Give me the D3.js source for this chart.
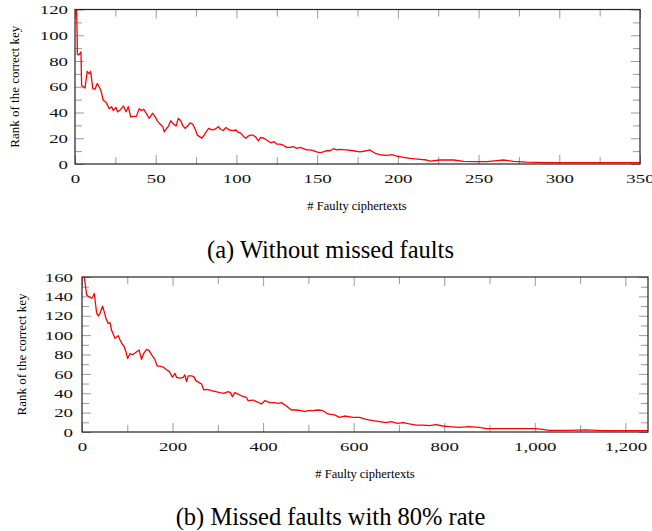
<!DOCTYPE html>
<html>
<head>
<meta charset="utf-8">
<script src="https://d3js.org/d3.v7.min.js"></script>
<style>
  body { margin: 0; background: #fff; }
</style>
</head>
<body>
<div id="chart"></div>
<script>
(function() {
  // --- data ---
  // (a) without missed faults
  const xA = [1, 1.5, 2.5, 3.7, 4.1, 6.2, 7.6, 8.9, 9.7, 11, 12.4, 13.8, 15, 16.1, 17.5, 19.2, 21.2, 22.7, 23.7,
    25.4, 26.3, 28, 30, 31.6, 33, 34.5, 36, 38, 39.8, 41.2, 42.6, 44.3, 46, 48, 49.5, 51, 52.7, 54.4, 55.3,
    56.8, 57.9, 59.3, 61, 62.6, 64, 65.5, 66.7, 68.2, 69.8, 71.2, 72.9, 74.3, 75.8, 77.4, 78.5, 80, 81.2,
    82.8, 84.7, 86.7, 88.8, 90.2, 91.9, 93.5, 95.6, 97.6, 99.7, 101.1, 102.6, 104.7, 105.9, 107.3, 108.8,
    110.4, 112.1, 113.6, 115, 117, 118.7, 121.2, 123.3, 124.9, 127, 129, 131.1, 133.2, 135.3, 137.3, 139.4,
    141.5, 143.5, 145.6, 147.6, 149.7, 151.8, 153.8, 155.9, 158, 160, 162, 164, 168, 172.4, 176.5, 180.7,
    182.7, 185.9, 189, 193.2, 196.3, 199.3, 203.4, 207.6, 213.8, 217.9, 220, 226.2, 234.5, 240.7, 249, 255,
    261.3, 265.4, 271.6, 279.8, 292.2, 300.5, 312.9, 327.3, 337.6, 350];
  const yA = [120, 85, 85, 87, 61, 59, 72, 70, 72, 58.6, 58, 62.5, 60, 56.7, 49.5, 48, 43, 44.5, 41.5,
    44, 40.5, 42, 45, 40.5, 44.5, 36.6, 37, 37, 43, 41.5, 42.5, 39, 35.4, 39.4, 37, 33.5, 31, 29, 25,
    27.6, 29.5, 33.6, 31, 29.5, 35.4, 33.6, 30, 27.6, 29.5, 32, 31, 27.6, 22.4, 21.1, 20, 22.4, 25,
    27.6, 26.5, 27, 28.9, 27, 26, 28.4, 26.4, 26, 26.4, 24.5, 24, 21, 20, 21.7, 22.4,
    22.4, 20.7, 18, 20.7, 20, 18.6, 16.5, 17.3, 15.5, 15.5, 14.7, 12.9, 12.9, 13.4, 12.1, 12.9,
    11.9, 10.9, 10.9, 10.4, 9.5, 8.8, 9.5, 10.4, 10.3, 11.9, 10.9, 11.4, 11, 10.3, 9.5, 10.3,
    10.9, 8.3, 7.2, 6.7, 7.2, 6.2, 5.2, 4.4, 3.6, 3.1, 2.3, 3.1, 3.1, 2.1, 1.8, 1.8,
    2.6, 3.1, 2.1, 1.5, 1.0, 1.0, 1, 1, 1, 1];

  // (b) missed faults with 80% rate
  const xB = [5, 10.3, 12.9, 21.3, 23.5, 27.2, 32.3, 36, 39.7, 45.5, 48.5, 52.9, 58, 61.8, 65.4, 72.8, 80.2,
    83.8, 87.5, 92.6, 97, 100.7, 105.9, 111.7, 116.9, 126.4, 131.5, 136.7, 142.6, 148.4, 153.5, 160.9,
    166, 171.9, 179.3, 186.6, 192.5, 200, 205.1, 208.8, 216.1, 223.5, 227.1, 230.8, 234.5, 241.9, 247,
    251.5, 258.8, 264, 269, 276.4, 286, 295.5, 304.3, 313.2, 322.7, 327.9, 332.2, 337.4, 344.7, 352.1,
    363.1, 366.8, 377.8, 385.2, 396.2, 403.6, 414.6, 425.6, 433, 440.3, 451.3, 462.4, 473.4, 484.4,
    491.8, 499.1, 510.1, 521.1, 532.2, 543.2, 557.8, 568.9, 579.9, 598.3, 613, 627.7, 642.4, 657.1,
    671.8, 682.8, 697.5, 708.5, 723.2, 737.9, 752.6, 767.3, 782, 796.7, 811.4, 833.5, 855.5, 877.5,
    892.2, 929, 965.7, 1002.5, 1017.2, 1031.9, 1076, 1112.8, 1149.5, 1186.3, 1250];
  const yB = [160, 141.4, 140.4, 138, 139, 143, 123, 119.7, 122.5, 130, 125, 117.3, 112, 112.9, 105, 96.7, 99.4,
    95.2, 91.6, 88.8, 82.9, 76, 80.8, 79.8, 81.5, 84.6, 75, 81.5, 85.3, 84, 79.8, 75,
    68.1, 68.1, 67, 64.3, 62.6, 56.5, 60.6, 56.5, 55.5, 56.5, 59, 52, 57.9, 57.9, 57.2,
    53, 51, 49.6, 43.4, 44, 42.7, 41.6, 40.6, 39.9, 41.6, 40.6, 36.5, 40.6, 39.2, 37.2,
    35.8, 32.3, 33, 31.3, 28.9, 32.3, 30.3, 30.3, 29.6, 30.3, 26.9, 22.7, 22.7, 22,
    21, 22, 22, 22.7, 22, 18.6, 17.6, 15.1, 16.5, 15.1, 15.1, 13.1, 11.7, 10.7,
    9.6, 10.7, 8.9, 9.6, 8.3, 7.2, 7.2, 6.5, 7.6, 6.2, 5.5, 4.8, 5.5, 4.8,
    3.4, 3.4, 3.4, 3.4, 2.8, 1.7, 1.7, 2.1, 1.4, 1.4, 1.4];

  const yTicksA = [0, 20, 40, 60, 80, 100, 120];
  const xTicksA = [0, 50, 100, 150, 200, 250, 300, 350];
  const yTicksB = [0, 20, 40, 60, 80, 100, 120, 140, 160];
  const xTicksB = [0, 200, 400, 600, 800, 1000, 1200];

  const width = 652, height = 531;
  const serif = "'Liberation Serif'";
  const stretch = 1.45;   // tick labels in the figure are drawn wide
  const svg = d3.select("#chart").append("svg")
    .attr("width", width).attr("height", height);

  function panel(cfg) {
    const x = d3.scaleLinear().domain(cfg.xDomain).range([cfg.left, cfg.right]);
    const y = d3.scaleLinear().domain(cfg.yDomain).range([cfg.bottom, cfg.top]);
    const g = svg.append("g");

    const grey = "#9a9a9a";
    const tickGroup = (axis, tx, ty) => {
      const t = g.append("g").attr("transform", `translate(${tx},${ty})`).call(axis);
      t.select(".domain").remove();
      t.selectAll("line").attr("stroke", grey).attr("stroke-width", 1);
      return t;
    };
    // minor ticks on all sides
    tickGroup(d3.axisBottom(x).tickValues(cfg.xMinor).tickSize(-7).tickFormat(""), 0, cfg.bottom);
    tickGroup(d3.axisTop(x).tickValues(cfg.xMinor).tickSize(-7).tickFormat(""), 0, cfg.top);
    tickGroup(d3.axisLeft(y).tickValues(cfg.yMinor).tickSize(-7).tickFormat(""), cfg.left, 0);
    tickGroup(d3.axisRight(y).tickValues(cfg.yMinor).tickSize(-7).tickFormat(""), cfg.right, 0);

    // major ticks
    const bx = tickGroup(d3.axisBottom(x).tickValues(cfg.xTicks).tickSize(-9).tickPadding(15)
      .tickFormat(d3.format(",")), 0, cfg.bottom);
    tickGroup(d3.axisTop(x).tickValues(cfg.xTicks).tickSize(-9).tickFormat(""), 0, cfg.top);
    const ly = tickGroup(d3.axisLeft(y).tickValues(cfg.yTicks).tickSize(-9).tickPadding(cfg.yPad), cfg.left, 0);
    tickGroup(d3.axisRight(y).tickValues(cfg.yTicks).tickSize(-9).tickFormat(""), cfg.right, 0);
    [bx, ly].forEach(a => {
      a.attr("font-family", "Liberation Serif").attr("font-size", 13);
      a.selectAll("text")
        .attr("fill", "#111")
        .attr("x", function() { return (+d3.select(this).attr("x") || 0) / stretch; })
        .attr("transform", `scale(${stretch},1)`);
    });
    bx.selectAll("text").attr("dy", "0.3em");

    // the curve
    const line = d3.line().x(d => x(d[0])).y(d => y(d[1]));
    g.append("path")
      .datum(d3.zip(cfg.xs, cfg.ys))
      .attr("d", line)
      .attr("fill", "none")
      .attr("stroke", "#ff0000")
      .attr("stroke-width", 1.3)
      .attr("stroke-linejoin", "round");

    // frame
    g.append("rect")
      .attr("x", cfg.left).attr("y", cfg.top)
      .attr("width", cfg.right - cfg.left).attr("height", cfg.bottom - cfg.top)
      .attr("fill", "none").attr("stroke", "#222").attr("stroke-width", 1.2);

    // titles
    g.append("text")
      .attr("transform", `translate(${cfg.yTitleX},${(cfg.top + cfg.bottom) / 2}) rotate(-90)`)
      .attr("text-anchor", "middle")
      .style("font-family", serif)
      .style("font-size", "13px")
      .text("Rank of the correct key");
    g.append("text")
      .attr("x", cfg.xTitleX).attr("y", cfg.xTitleY)
      .attr("text-anchor", "middle")
      .style("font-family", serif)
      .style("font-size", "12.5px")
      .text("# Faulty ciphertexts");
    g.append("text")
      .attr("x", 330.5).attr("y", cfg.captionY)
      .attr("text-anchor", "middle")
      .style("font-family", serif)
      .style("font-size", "24.5px")
      .text(cfg.caption);
  }

  panel({
    xDomain: [0, 350], yDomain: [0, 120],
    left: 75, right: 640, top: 9.5, bottom: 164,
    xTicks: xTicksA, yTicks: yTicksA,
    xMinor: d3.range(25, 350, 50), yMinor: d3.range(10, 120, 20),
    xs: xA, ys: yA, yPad: 7,
    yTitleX: 19, xTitleX: 357, xTitleY: 210,
    captionY: 258, caption: "(a) Without missed faults"
  });

  panel({
    xDomain: [0, 1250], yDomain: [0, 160],
    left: 82, right: 648, top: 277, bottom: 432,
    xTicks: xTicksB, yTicks: yTicksB,
    xMinor: d3.range(100, 1250, 200), yMinor: d3.range(10, 160, 20),
    xs: xB, ys: yB, yPad: 9,
    yTitleX: 26, xTitleX: 365, xTitleY: 478,
    captionY: 525, caption: "(b) Missed faults with 80% rate"
  });
})();
</script>
</body>
</html>
